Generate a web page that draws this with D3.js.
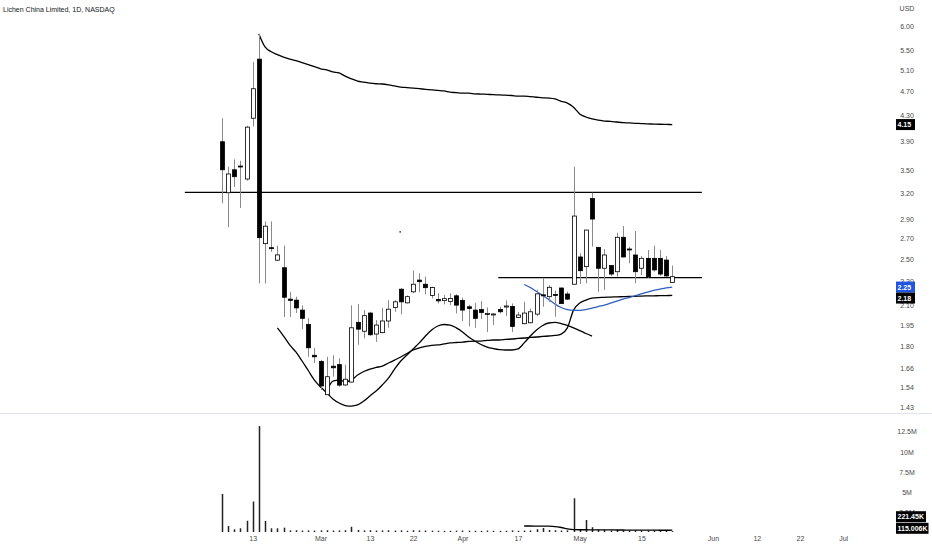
<!DOCTYPE html>
<html><head><meta charset="utf-8">
<script src="https://cdn.jsdelivr.net/npm/d3@7"></script>
<style>
body{margin:0;background:#fff}
svg{display:block}
text{font-family:"Liberation Sans",Arial,sans-serif}
</style>
</head><body>
<svg id="c" width="932" height="550"></svg>
<script>
// ---------- DATA ----------
const title = "Lichen China Limited, 1D, NASDAQ";
const dates = ["2023-02-06","2023-02-07","2023-02-08","2023-02-09","2023-02-10","2023-02-13","2023-02-14","2023-02-15","2023-02-16","2023-02-17",
"2023-02-21","2023-02-22","2023-02-23","2023-02-24","2023-02-27","2023-02-28","2023-03-01","2023-03-02","2023-03-03","2023-03-06",
"2023-03-07","2023-03-08","2023-03-09","2023-03-10","2023-03-13","2023-03-14","2023-03-15","2023-03-16","2023-03-17","2023-03-20",
"2023-03-21","2023-03-22","2023-03-23","2023-03-24","2023-03-27","2023-03-28","2023-03-29","2023-03-30","2023-03-31","2023-04-03",
"2023-04-04","2023-04-05","2023-04-06","2023-04-10","2023-04-11","2023-04-12","2023-04-13","2023-04-14","2023-04-17","2023-04-18",
"2023-04-19","2023-04-20","2023-04-21","2023-04-24","2023-04-25","2023-04-26","2023-04-27","2023-04-28","2023-05-01","2023-05-02",
"2023-05-03","2023-05-04","2023-05-05","2023-05-08","2023-05-09","2023-05-10","2023-05-11","2023-05-12","2023-05-15","2023-05-16",
"2023-05-17","2023-05-18","2023-05-19","2023-05-22"];
const open  = [3.89,3.21,3.50,3.55,3.38,4.25,5.31,2.65,2.61,2.49, 2.42,2.15,2.142,2.063,1.955,1.74,1.70,1.50,1.67,1.68,
 1.556,1.573,1.97,1.905,2.04,1.885,1.895,1.98,2.083,2.232, 2.12,2.21,2.31,2.274,2.18,2.148,2.138,2.132,2.177,2.14,
 2.089,2.063,2.067,2.033,2.029,2.068,2.09,2.092,2.006,1.96, 1.967,2.032,2.185,2.17,2.188,2.242,2.192,2.274,2.52,2.43,
 3.14,2.613,2.415,2.44,2.384,2.714,2.597,2.539,2.415,2.507, 2.507,2.507,2.491,2.29];
const high  = [4.25,3.54,3.64,3.62,4.13,5.25,5.84,2.88,2.88,2.63, 2.63,2.21,2.17,2.10,2.00,1.79,1.71,1.73,1.74,1.72,
 1.68,2.10,2.11,2.063,2.05,1.987,2.08,2.142,2.142,2.24, 2.18,2.395,2.37,2.34,2.253,2.197,2.183,2.197,2.19,2.163,
 2.105,2.12,2.134,2.083,2.04,2.089,2.14,2.115,2.048,2.128, 2.076,2.228,2.33,2.267,2.22,2.246,2.211,3.54,2.555,2.79,
 3.21,2.613,2.594,2.445,2.761,2.832,2.617,2.779,2.53,2.587, 2.63,2.587,2.53,2.44];
const low   = [3.085,2.82,3.28,3.03,3.36,4.12,2.28,2.28,2.57,2.48, 2.01,2.01,2.04,1.92,1.73,1.69,1.527,1.50,1.605,1.545,
 1.55,1.57,1.81,1.855,1.87,1.83,1.89,1.93,2.05,2.03, 2.115,2.198,2.206,2.19,2.156,2.116,2.108,2.102,2.037,1.98,
 1.94,1.93,1.995,1.90,1.95,2.037,2.017,1.90,2.002,1.955, 1.962,2.017,2.089,2.128,2.012,2.11,2.142,2.27,2.276,2.282,
 2.62,2.21,2.225,2.346,2.34,2.517,2.46,2.282,2.354,2.33, 2.384,2.346,2.34,2.29];
const close = [3.50,3.445,3.41,3.54,4.11,4.75,2.71,2.83,2.60,2.54, 2.165,2.14,2.08,2.00,1.79,1.73,1.55,1.605,1.66,1.555,
 1.59,1.93,1.92,2.02,1.88,1.95,1.98,2.07,2.128,2.128, 2.17,2.274,2.296,2.245,2.246,2.136,2.154,2.156,2.102,2.063,
 2.075,2.00,2.044,2.036,2.033,2.05,2.095,1.94,2.025,2.04, 2.05,2.193,2.179,2.248,2.18,2.114,2.15,2.94,2.393,2.789,
 2.907,2.415,2.539,2.363,2.714,2.52,2.59,2.384,2.507,2.34, 2.40,2.363,2.346,2.34];
// volume in millions
const volume = [4.74,0.75,0.34,0.46,1.4,3.8,13.2,1.37,0.46,0.46, 0.54,0.2,0.22,0.18,0.2,0.18,0.2,0.22,0.18,0.2,
 0.22,0.65,0.25,0.2,0.22,0.18,0.2,0.22,0.18,0.2, 0.15,0.22,0.2,0.18,0.16,0.15,0.14,0.15,0.16,0.18,
 0.16,0.15,0.14,0.18,0.15,0.14,0.15,0.2,0.15,0.18, 0.2,0.35,0.5,0.25,0.22,0.18,0.2,4.2,0.35,1.5,
 0.6,0.3,0.25,0.2,0.25,0.22,0.18,0.2,0.18,0.16, 0.18,0.15,0.16,0.115006];

// overlay lines (start = index into dates)
const vwapStart = 6;
const vwap = [5.84,5.56,5.46,5.40,5.35,5.31,5.28,5.24,5.20,5.16,5.12,5.10,5.06,5.04,4.98,4.93,4.89,4.87,4.85,4.84,
 4.835,4.82,4.80,4.78,4.77,4.76,4.75,4.74,4.73,4.72,4.71,4.69,4.68,4.67,4.67,4.66,4.655,4.65,4.645,4.64,
 4.635,4.63,4.62,4.62,4.61,4.60,4.59,4.585,4.57,4.53,4.50,4.43,4.32,4.27,4.24,4.22,4.205,4.20,4.19,4.18,
 4.175,4.17,4.165,4.16,4.158,4.155,4.152,4.15];
const cupStart = 9;
const cup = [1.929,1.871,1.809,1.762,1.703,1.643,1.585,1.544,1.51,1.476,1.4535,1.44,1.437,1.443,1.4645,1.493,1.521,1.556,1.597,1.652,
 1.703,1.742,1.782,1.823,1.871,1.914,1.943,1.954,1.95,1.929,1.90,1.864,1.836,1.812,1.795,1.785,1.778,1.775,1.775,1.782,
 1.823,1.871,1.914,1.947,1.965,1.969,1.961,1.947,1.929,1.91,1.889,1.871];
const baseStart = 17;
const baseLine = [1.521,1.579,1.585,1.576,1.585,1.615,1.637,1.652,1.662,1.671,1.69,1.709,1.729,1.752,1.775,1.789,1.799,1.806,1.809,1.816,
 1.823,1.826,1.829,1.833,1.836,1.836,1.84,1.843,1.843,1.847,1.85,1.854,1.857,1.861,1.864,1.868,1.871,1.875,1.885,1.929,
 2.063,2.118,2.142,2.159,2.163,2.164,2.167,2.168,2.17,2.172,2.173,2.175,2.176,2.177,2.178,2.179,2.18];
const maStart = 49;
const maLine = [2.272,2.246,2.213,2.179,2.146,2.11,2.083,2.067,2.061,2.061,2.067,2.079,2.091,2.102,2.118,2.134,2.151,2.163,2.179,2.192,
 2.208,2.222,2.233,2.243,2.25];
const volMaStart = 49;
const volMa = [0.75,0.75,0.74,0.73,0.72,0.68,0.56,0.4,0.3,0.28,0.28,0.27,0.27,0.26,0.26,0.25,0.25,0.24,0.24,0.23,
 0.23,0.23,0.22,0.22,0.22145];

// horizontal levels: [price, fromIndex, toIndex]
const levels = [[3.215,-6,77.8],[2.332,44.8,77.8]];
// stray drawing point: [index, price]
const marks = [[28.9, 2.77]];

const priceTicks = [6.00,5.50,5.10,4.70,4.30,3.90,3.50,3.20,2.90,2.70,2.50,2.30,2.10,1.95,1.80,1.66,1.54,1.43];
const volTicks = [12.5,10,7.5,5,2.5];
const volTickLabels = ["12.5M","10M","7.5M","5M","2.5M"];
const timeTickIdx = [5,16,24,31,39,48,58,68,79.6,86.7,93.7,100.7];
const timeTickLabels = ["13","Mar","13","22","Apr","17","May","15","Jun","12","22","Jul"];

// ---------- CHART ----------
const svg = d3.select("#c");
svg.append("rect").attr("width",932).attr("height",550).attr("fill","#fff");

const x = d3.scaleLinear().domain([0, dates.length-1]).range([221.85, 221.85 + 6.17*(dates.length-1)]);
const y = d3.scaleLog().domain([1.40, 6.635]).range([413, 0]);
const yv = d3.scaleLinear().domain([0, 12.5]).range([532, 431.7]);

// pane separator
svg.append("line").attr("x1",0).attr("x2",932).attr("y1",413.5).attr("y2",413.5)
  .attr("stroke","#e0e3eb").attr("stroke-width",1);

// title
svg.append("text").attr("x",3).attr("y",12).attr("font-size",7).attr("fill","#131722").text(title);

// price axis
const pAxis = svg.append("g").attr("transform","translate(907,0)")
  .call(d3.axisRight(y).tickValues(priceTicks).tickFormat(d3.format(".2f")).tickSize(0).tickPadding(0));
pAxis.select(".domain").remove();
pAxis.selectAll("text").attr("text-anchor","middle").attr("font-size",7).attr("fill","#4a4a4a")
  .style("font-family","'Liberation Sans',Arial,sans-serif");
svg.append("text").attr("x",907).attr("y",10.5).attr("text-anchor","middle").attr("font-size",7)
  .attr("fill","#4a4a4a").text("USD");

// volume axis
const vAxis = svg.append("g").attr("transform","translate(907,0)")
  .call(d3.axisRight(yv).tickValues(volTicks).tickFormat((d,i)=>volTickLabels[i]).tickSize(0).tickPadding(0));
vAxis.select(".domain").remove();
vAxis.selectAll("text").attr("text-anchor","middle").attr("font-size",7).attr("fill","#4a4a4a")
  .style("font-family","'Liberation Sans',Arial,sans-serif");

// time axis
const tAxis = svg.append("g").attr("transform","translate(0,536)")
  .call(d3.axisBottom(x).tickValues(timeTickIdx).tickFormat((d,i)=>timeTickLabels[i]).tickSize(0).tickPadding(0));
tAxis.select(".domain").remove();
tAxis.selectAll("text").attr("font-size",7).attr("fill","#4a4a4a")
  .style("font-family","'Liberation Sans',Arial,sans-serif");

// horizontal levels
svg.append("g").selectAll("line").data(levels).join("line")
  .attr("x1",d=>x(d[1])).attr("x2",d=>x(d[2]))
  .attr("y1",d=>y(d[0])).attr("y2",d=>y(d[0]))
  .attr("stroke","#000").attr("stroke-width",1.3);

svg.append("g").selectAll("rect").data(marks).join("rect")
  .attr("x",d=>x(d[0])-0.75).attr("y",d=>y(d[1])-0.75).attr("width",1.5).attr("height",1.5).attr("fill","#333");

// overlay lines
function drawLine(vals, start, scale, color, w){
  const pts = vals.map((v,k)=>[x(start+k), scale(v)]);
  svg.append("path").attr("d", d3.line().curve(d3.curveMonotoneX)(pts))
    .attr("fill","none").attr("stroke",color).attr("stroke-width",w).attr("stroke-linejoin","round");
}
drawLine(vwap, vwapStart, y, "#000", 1.3);
drawLine(cup, cupStart, y, "#000", 1.3);
drawLine(baseLine, baseStart, y, "#000", 1.3);
drawLine(maLine, maStart, y, "#2e5ec0", 1.3);

// candles
const idx = d3.range(dates.length);
const cg = svg.append("g");
cg.selectAll("line").data(idx).join("line")
  .attr("x1",i=>Math.round(x(i))+0.5).attr("x2",i=>Math.round(x(i))+0.5)
  .attr("y1",i=>y(high[i])).attr("y2",i=>y(low[i]))
  .attr("stroke","#8a8a8a").attr("stroke-width",1);
cg.selectAll("rect").data(idx).join("rect")
  .attr("x",i=>Math.round(x(i))-1.5).attr("width",4)
  .attr("y",i=>y(Math.max(open[i],close[i])))
  .attr("height",i=>Math.max(1,Math.abs(y(open[i])-y(close[i]))))
  .attr("fill",i=>close[i]>=open[i]?"#fff":"#000")
  .attr("stroke","#000").attr("stroke-width",0.8);

// volume bars
svg.append("g").selectAll("rect").data(idx).join("rect")
  .attr("x",i=>Math.round(x(i))-0.25).attr("width",1.5)
  .attr("y",i=>yv(volume[i])).attr("height",i=>yv(0)-yv(volume[i]))
  .attr("fill","#222");
drawLine(volMa, volMaStart, yv, "#000", 1.3);

// value labels on scale
function tag(yc, txt, bg, w){
  const g = svg.append("g");
  g.append("rect").attr("x",896).attr("y",yc-5.5).attr("width",w).attr("height",11).attr("fill",bg);
  g.append("text").attr("x",897.5).attr("y",yc+2.6).attr("font-size",7).attr("font-weight","bold")
    .attr("fill","#fff").text(txt);
}
const lastV = vwap[vwap.length-1], lastMa = maLine[maLine.length-1], lastB = baseLine[baseLine.length-1];
tag(y(lastV), lastV.toFixed(2), "#000", 19);
let yMa = y(lastMa), yB = y(lastB);
if (yB - yMa < 11) yB = yMa + 11;
tag(yMa, lastMa.toFixed(2), "#1f55e0", 19);
tag(yB, lastB.toFixed(2), "#000", 19);
const lastVol = volume[volume.length-1], lastVolMa = volMa[volMa.length-1];
let yL = Math.min(yv(lastVol), 528.3), yM = yL - 11.6;
tag(yM, (lastVolMa*1000).toFixed(2)+"K", "#000", 30);
tag(yL, (lastVol*1000).toFixed(3)+"K", "#000", 32.5);
</script>
</body></html>
